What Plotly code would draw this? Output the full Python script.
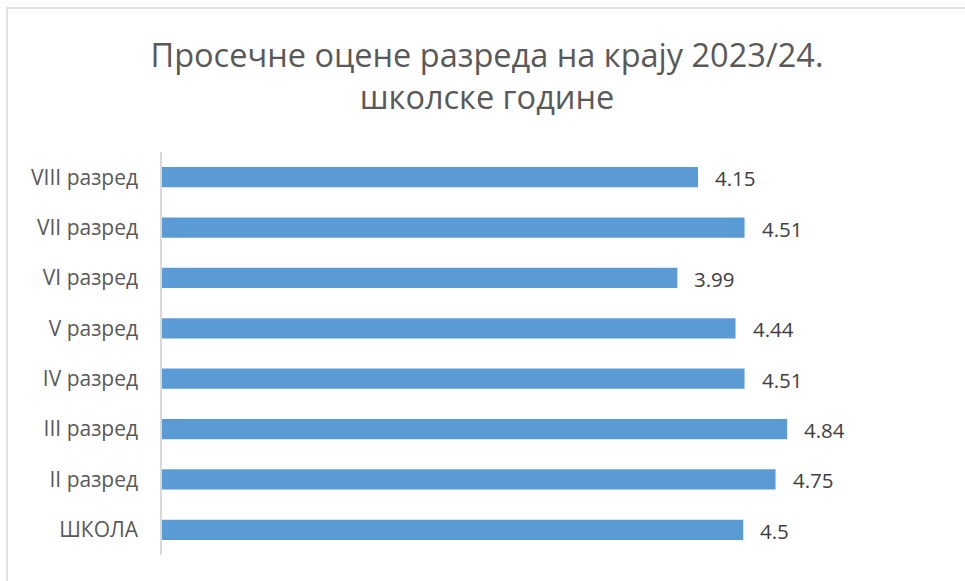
import plotly.graph_objects as go

categories = ["ШКОЛА", "II разред", "III разред", "IV разред", "V разред", "VI разред", "VII разред", "VIII разред"]
values = [4.5, 4.75, 4.84, 4.51, 4.44, 3.99, 4.51, 4.15]
value_labels = ["4.5", "4.75", "4.84", "4.51", "4.44", "3.99", "4.51", "4.15"]
title_text = "Просечне оцене разреда на крају 2023/24.<br>школске године"

W, H = 965, 581
L, R, T, B = 162, 28, 152, 26
pw, ph = W - L - R, H - T - B

fig = go.Figure()
fig.add_trace(go.Bar(
    y=categories, x=values, orientation="h",
    marker=dict(color="#5b9bd5", line=dict(width=0)),
    hoverinfo="skip",
))

for c, v, t in zip(categories, values, value_labels):
    fig.add_annotation(x=v, y=c, text=t, showarrow=False, xanchor="left",
                       xshift=15, yshift=-1,
                       font=dict(family="Open Sans", size=20.5, color="#404040"))

# chart border (cropped on right and bottom)
fig.add_shape(type="rect", xref="paper", yref="paper",
              x0=(7 - L) / pw, x1=(W + 10 - L) / pw,
              y0=(H - B - (H + 10)) / ph, y1=(H - B - 8) / ph,
              line=dict(color="#d9d9d9", width=1.5), fillcolor="rgba(0,0,0,0)", layer="below")

fig.update_layout(
    width=W, height=H,
    margin=dict(l=L, r=R, t=T, b=B),
    paper_bgcolor="white", plot_bgcolor="white",
    bargap=0.6,
    showlegend=False,
    title=dict(text=title_text, x=487 / W, xanchor="center", xref="container",
               y=1 - 67 / H, yanchor="top", yref="container",
               font=dict(family="Open Sans", size=32.5, color="#595959")),
    xaxis=dict(range=[0, 6], visible=False, showgrid=False, zeroline=False),
    yaxis=dict(showline=True, linecolor="#d9d9d9", linewidth=1.5, ticks="",
               showgrid=False, ticklabelstandoff=18,
               tickfont=dict(family="Open Sans", size=21, color="#595959")),
)

fig.write_html("out.html", config={"displayModeBar": False},
               post_script="document.body.style.margin='0';document.body.style.overflow='hidden';")
